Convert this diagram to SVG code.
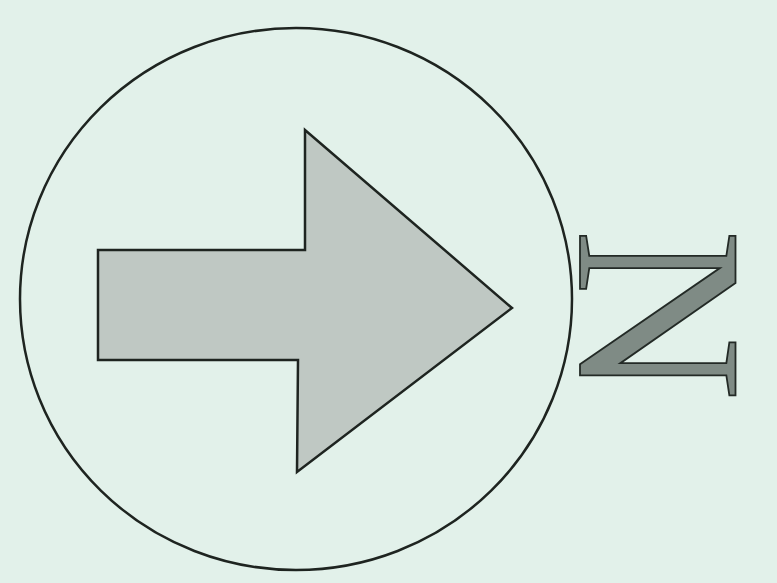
<svg xmlns="http://www.w3.org/2000/svg" width="777" height="583" viewBox="0 0 777 583">
  <style>
    .outline { fill: none; stroke: #1e2420; stroke-width: 2.5; }
    .arrow { fill: #bfc8c3; stroke: #1e2420; stroke-width: 2.5; stroke-linejoin: miter; }
    .letter { font-family: "Liberation Serif", "Times New Roman", serif; font-size: 238px; fill: #7f8b85; stroke: #232a26; stroke-width: 1.8; }
  </style>
  <rect width="777" height="583" fill="#e2f1ea"/>
  <g id="compass">
    <ellipse class="outline" cx="296" cy="299" rx="276" ry="271"/>
  </g>
  <g id="north-arrow">
    <polygon class="arrow" points="98,250 305,250 305,130 512,308 297,472 298,360 98,360"/>
  </g>
  <g id="north-label">
    <text class="letter" text-anchor="middle" transform="translate(580,315) rotate(90)">N</text>
  </g>
</svg>
